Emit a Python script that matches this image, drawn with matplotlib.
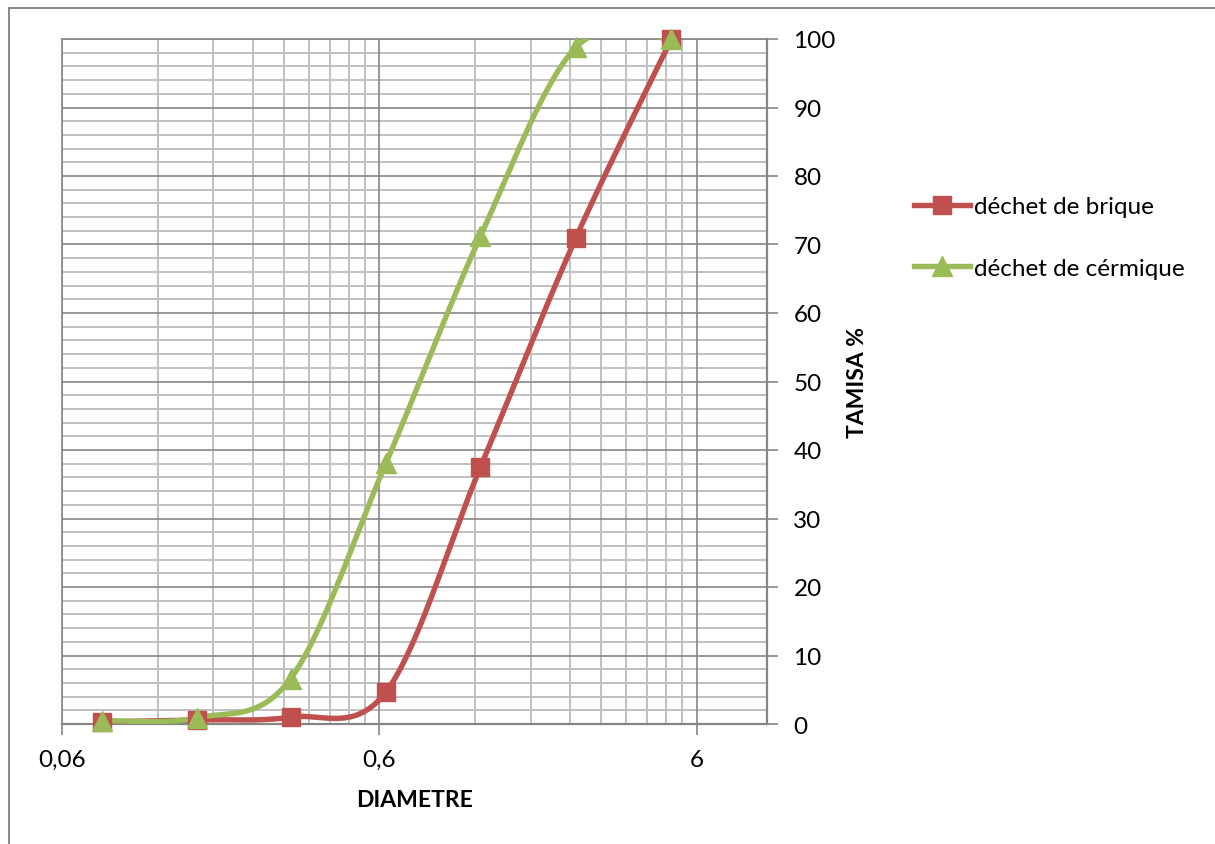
import numpy as np
import matplotlib
matplotlib.use("Agg")
import matplotlib.pyplot as plt
from matplotlib.ticker import FixedLocator, FixedFormatter, NullFormatter
from matplotlib.lines import Line2D

plt.rcParams['font.family'] = ['Lato', 'DejaVu Sans']

# Sieve openings (mm) and cumulative passing (%)
diametre = [0.08, 0.16, 0.315, 0.63, 1.25, 2.5, 5.0]
brique = [0.3, 0.6, 1.0, 4.7, 37.5, 71.0, 100.0]
ceramique = [0.5, 0.9, 6.6, 38.1, 71.2, 98.8, 100.0]

series_names = ["déchet de brique", "déchet de cérmique"]
series_colors = ["#C0504D", "#9BBB59"]
series_markers = ["s", "^"]

x_ticks = [0.06, 0.6, 6]
x_ticklabels = ["0,06", "0,6", "6"]
y_ticks = list(range(0, 101, 10))

W, H, DPI = 1215, 845, 100
fig = plt.figure(figsize=(W / DPI, H / DPI), dpi=DPI)

L, R, T, B = 62, 767, 40, 725
ax = fig.add_axes([L / W, 1 - B / H, (R - L) / W, (B - T) / H])

XMIN, XMAX = 0.06, 10.0
YMIN, YMAX = 0, 100
ax.set_xscale("log")
ax.set_xlim(XMIN, XMAX)
ax.set_ylim(YMIN, YMAX)


def smooth(xs, ys, n=40):
    """Catmull-Rom style bezier smoothing computed in screen proportions."""
    px = (np.log10(xs) - np.log10(XMIN)) / (np.log10(XMAX) - np.log10(XMIN)) * (R - L)
    py = (np.asarray(ys) - YMIN) / (YMAX - YMIN) * (B - T)
    P = np.column_stack([px, py])
    out = []
    for i in range(len(P) - 1):
        p0 = P[i - 1] if i > 0 else P[i]
        p1 = P[i]
        p2 = P[i + 1]
        p3 = P[i + 2] if i + 2 < len(P) else P[i + 1]
        c1 = p1 + (p2 - p0) / 6.0
        c2 = p2 - (p3 - p1) / 6.0
        t = np.linspace(0, 1, n)[:, None]
        seg = ((1 - t) ** 3) * p1 + 3 * ((1 - t) ** 2) * t * c1 + 3 * (1 - t) * t ** 2 * c2 + t ** 3 * p2
        out.append(seg if i == 0 else seg[1:])
    S = np.vstack(out)
    sx = 10 ** (S[:, 0] / (R - L) * (np.log10(XMAX) - np.log10(XMIN)) + np.log10(XMIN))
    sy = S[:, 1] / (B - T) * (YMAX - YMIN) + YMIN
    return sx, sy


# grid
major_col = "#868686"
minor_col = "#C0C0C0"
minor_x = [0.06 * k * 10 ** e for e in range(0, 3) for k in range(2, 10) if 0.06 * k * 10 ** e < XMAX]
minor_y = [v for v in range(2, 100, 2) if v % 10]
for v in minor_y:
    ax.axhline(v, color=minor_col, lw=1.4, zorder=0)
for v in minor_x:
    ax.axvline(v, color=minor_col, lw=1.4, zorder=0)
for v in y_ticks:
    ax.axhline(v, color=major_col, lw=1.2, zorder=0.5)
for v in x_ticks:
    ax.axvline(v, color=major_col, lw=1.2, zorder=0.5)

LW = 3.9
for ys, name, col, mk in zip([brique, ceramique], series_names, series_colors, series_markers):
    sx, sy = smooth(diametre, ys)
    ax.plot(sx, sy, color=col, lw=LW, solid_capstyle="round", zorder=3)
    ms = 13 if mk == "s" else 15
    ax.plot(diametre, ys, linestyle="none", marker=mk, markersize=ms, color=col,
            markeredgecolor=col, zorder=4, clip_on=False)

for s in ["left", "top"]:
    ax.spines[s].set_color(major_col)
    ax.spines[s].set_linewidth(1.2)
for s in ["right", "bottom"]:
    ax.spines[s].set_color(major_col)
    ax.spines[s].set_linewidth(1.6)

ax.xaxis.set_major_locator(FixedLocator(x_ticks))
ax.xaxis.set_major_formatter(FixedFormatter(x_ticklabels))
ax.xaxis.set_minor_locator(FixedLocator([]))
ax.xaxis.set_minor_formatter(NullFormatter())
ax.yaxis.set_major_locator(FixedLocator(y_ticks))
ax.yaxis.tick_right()
ax.tick_params(axis="y", which="major", direction="out", length=8, width=1.2,
               color=major_col, labelsize=17.5, pad=11, labelcolor="black")
ax.tick_params(axis="x", which="major", direction="out", length=8, width=1.2,
               color=major_col, labelsize=17.5, pad=10, labelcolor="black")

fig.text(415 / W, 1 - 801 / H, "DIAMETRE", ha="center", va="center",
         fontsize=16.5, fontweight="bold")
fig.text(858 / W, 1 - 383 / H, "TAMISA %", ha="center", va="center",
         rotation=90, fontsize=16.5, fontweight="bold")

handles = [Line2D([0], [0], color=c, lw=LW, marker=m, markersize=13 if m == "s" else 15)
           for c, m in zip(series_colors, series_markers)]
leg = fig.legend(handles, series_names, loc="upper left",
                 bbox_to_anchor=(914 / W, 1 - 197 / H), frameon=False,
                 fontsize=17.5, handlelength=2.3, handletextpad=0.15,
                 labelspacing=1.68, borderpad=0, borderaxespad=0)

# chart area border
fig.add_artist(Line2D([9 / W, 9 / W], [0, 1 - 9 / H], transform=fig.transFigure,
                      color=major_col, lw=1.4))
fig.add_artist(Line2D([9 / W, 1], [1 - 9 / H, 1 - 9 / H], transform=fig.transFigure,
                      color=major_col, lw=1.4))

fig.savefig("out.png", dpi=DPI)
